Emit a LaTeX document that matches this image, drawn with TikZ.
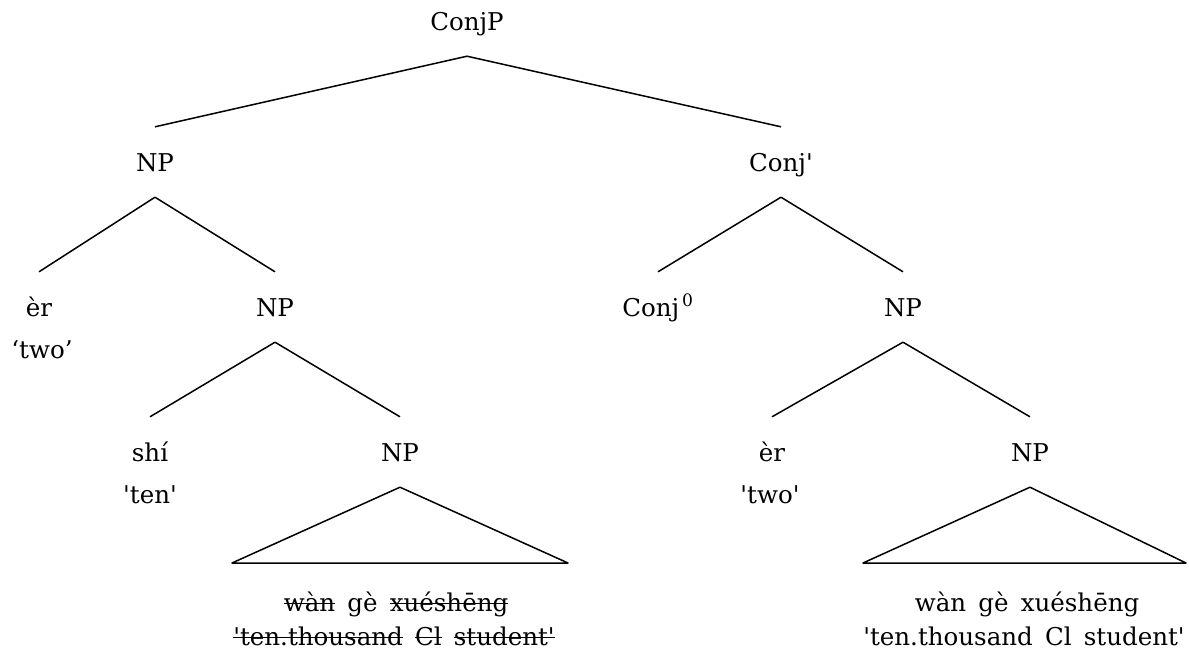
\documentclass[tikz,border=0pt]{standalone}
\usepackage{fontspec}
\setmainfont{DejaVu Serif}[Ligatures=TeXOff]

% struck-through text: the text with a rule laid across it
\newsavebox\strkbox
\newcommand\strk[1]{\sbox\strkbox{#1}\rlap{\usebox\strkbox}\rule[0.27em]{\wd\strkbox}{0.065em}}
\newcommand\wgap{\hspace{0.5em}}

\begin{document}
\begin{tikzpicture}[x=1pt,y=-1pt,
  cat/.style={anchor=base, inner sep=0pt, text height=44pt, text depth=26pt,
              font=\fontsize{24.5}{30}\selectfont},
  word/.style={anchor=base, inner sep=0pt, font=\fontsize{24.5}{30}\selectfont},
  branch/.style={line width=1.5pt, line join=round}]
\useasboundingbox (0,0) rectangle (1189,651);

% categories
\node[cat] (conjp)   at (467,30)  {ConjP};
\node[cat] (np1)     at (155,171) {NP};
\node[cat] (conjbar) at (781,171) {Conj'};
\node[cat] (er1)     at (39,316)  {èr};
\node[word] (two1)   at (42,358)  {‘two’};
\node[cat] (np2)     at (275,316) {NP};
\node[cat] (conj0)   at (658,316) {Conj\hspace{0.12em}\textsuperscript{0}};
\node[cat] (np3)     at (903,316) {NP};
\node[cat] (shi)     at (150,461) {shí};
\node[word] (ten)    at (150,503) {'ten'};
\node[cat] (np4)     at (400,461) {NP};
\node[cat] (er2)     at (772,461) {èr};
\node[word] (two2)   at (770,503) {'two'};
\node[cat] (np5)     at (1030,461) {NP};

% branches
\draw[branch] (conjp.south) -- (np1.north);
\draw[branch] (conjp.south) -- (conjbar.north);
\draw[branch] (np1.south) -- (er1.north);
\draw[branch] (np1.south) -- (np2.north);
\draw[branch] (conjbar.south) -- (conj0.north);
\draw[branch] (conjbar.south) -- (np3.north);
\draw[branch] (np2.south) -- (shi.north);
\draw[branch] (np2.south) -- (np4.north);
\draw[branch] (np3.south) -- (er2.north);
\draw[branch] (np3.south) -- (np5.north);

% triangles over the unanalysed phrases
\coordinate (tl1) at (232,563);
\coordinate (tr1) at (568,563);
\coordinate (tl2) at (863,563);
\coordinate (tr2) at (1186,563);
\draw[branch] (np4.south) -- (tr1) -- (tl1) -- cycle;
\draw[branch] (np5.south) -- (tr2) -- (tl2) -- cycle;

% phrase contents: deleted copy and pronounced copy
\node[word] (del1) at (396,611) {\strk{wàn}\wgap gè\wgap\strk{xuéshēng}};
\node[word] (del2) at (394,645) {\strk{'ten.thousand}\wgap\strk{Cl}\wgap\strk{student'}};
\node[word] (pro1) at (1027,611) {wàn\wgap gè\wgap xuéshēng};
\node[word] (pro2) at (1024,645) {'ten.thousand\wgap Cl\wgap student'};
\end{tikzpicture}
\end{document}
